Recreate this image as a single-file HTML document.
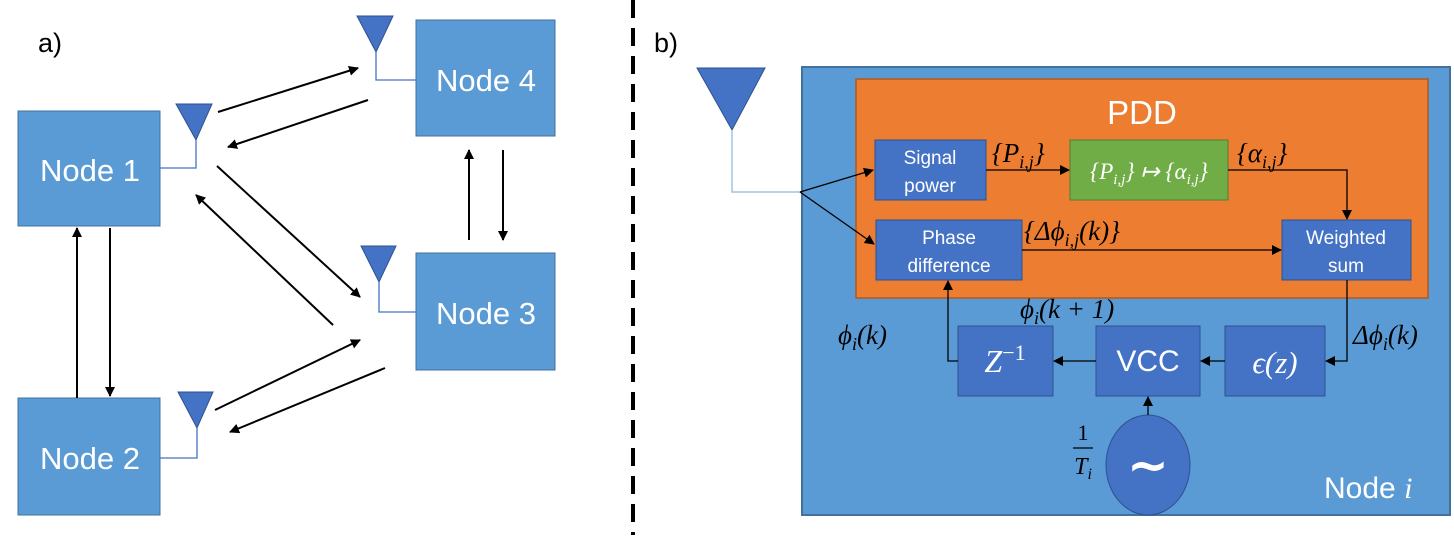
<!DOCTYPE html>
<html><head><meta charset="utf-8"><style>
html,body{margin:0;padding:0;background:#fff;}
svg{display:block;}
.w{fill:#fff;font-family:"Liberation Sans",sans-serif;}
.m{font-family:"Liberation Serif",serif;font-style:italic;fill:#000;}
</style></head><body>
<svg width="1454" height="556" viewBox="0 0 1454 556" xmlns="http://www.w3.org/2000/svg">
<defs>
<marker id="a" markerWidth="10" markerHeight="10" refX="9" refY="5" orient="auto" markerUnits="userSpaceOnUse">
<path d="M0,0 L10,5 L0,10 z" fill="#000"/></marker>
</defs>
<g font-family="Liberation Sans, sans-serif">
<text x="38" y="52" font-size="27" fill="#000">a)</text>
<text x="654" y="52" font-size="27" fill="#000">b)</text>
</g>
<g fill="#5b9bd5" stroke="#41719c" stroke-width="1">
<rect x="18" y="111" width="142" height="115"/>
<rect x="416" y="20" width="139" height="116"/>
<rect x="416" y="253" width="139" height="117"/>
<rect x="18" y="398" width="142" height="117"/>
</g>
<g class="w" font-size="31" text-anchor="middle">
<text x="90" y="181">Node 1</text>
<text x="486" y="91">Node 4</text>
<text x="486" y="324">Node 3</text>
<text x="90" y="469">Node 2</text>
</g>
<g fill="#4472c4" stroke="#2f528f">
<path d="M176,104 L212,104 L196,140 z"/>
<path d="M357,16 L393,16 L376,52 z"/>
<path d="M361,246 L396,246 L379,282 z"/>
<path d="M178,392 L213,392 L197,428 z"/>
</g>
<g fill="none" stroke="#4472c4" stroke-width="1.3">
<path d="M196,140 V168 H160"/>
<path d="M376,52 V80 H416"/>
<path d="M379,282 V312 H416"/>
<path d="M197,428 V458 H160"/>
</g>
<g stroke="#000" stroke-width="2" marker-end="url(#a)">
<line x1="218" y1="112" x2="358" y2="68"/>
<line x1="368" y1="100" x2="228" y2="147"/>
<line x1="217" y1="166" x2="360" y2="297"/>
<line x1="333" y1="325" x2="196" y2="195"/>
<line x1="215" y1="410" x2="360" y2="340"/>
<line x1="385" y1="368" x2="230" y2="432"/>
<line x1="77" y1="398" x2="77" y2="228"/>
<line x1="110" y1="228" x2="110" y2="396"/>
<line x1="469" y1="240" x2="469" y2="150"/>
<line x1="503" y1="150" x2="503" y2="240"/>
</g>
<line x1="633" y1="0" x2="633" y2="535" stroke="#000" stroke-width="4" stroke-dasharray="18,10"/>
<rect x="802" y="67" width="648" height="448" fill="#5b9bd5" stroke="#41719c" stroke-width="2"/>
<rect x="856" y="79" width="572" height="219" fill="#ed7d31" stroke="#ae5a21" stroke-width="1.5"/>
<text x="1142" y="124" class="w" font-size="33" text-anchor="middle">PDD</text>
<path d="M697,68 L765,68 L732,130 z" fill="#4472c4" stroke="#2f528f"/>
<path d="M732,130 V192 H802" fill="none" stroke="#9dc3e6" stroke-width="1.5"/>
<g fill="#4472c4" stroke="#2f528f">
<rect x="875" y="140" width="111" height="60"/>
<rect x="876" y="220" width="146" height="60"/>
<rect x="1282" y="220" width="129" height="60"/>
<rect x="958" y="326" width="95" height="70"/>
<rect x="1096" y="326" width="104" height="70"/>
<rect x="1225" y="326" width="100" height="70"/>
<ellipse cx="1148" cy="465" rx="42" ry="50"/>
</g>
<rect x="1070" y="140" width="158" height="60" fill="#70ad47" stroke="#507e32"/>
<g class="w" font-size="19" text-anchor="middle">
<text x="930" y="164">Signal</text><text x="930" y="192">power</text>
<text x="949" y="244">Phase</text><text x="949" y="272">difference</text>
<text x="1346" y="244">Weighted</text><text x="1346" y="272">sum</text>
<text x="1148" y="371" font-size="30">VCC</text>
</g>
<text x="1149" y="179" font-family="Liberation Serif,serif" font-style="italic" font-size="23" fill="#fff" text-anchor="middle">{P<tspan font-size="15" dy="5">i,j</tspan><tspan dy="-5">} ↦ {α</tspan><tspan font-size="15" dy="5">i,j</tspan><tspan dy="-5">}</tspan></text>
<text x="1005" y="372" font-family="Liberation Serif,serif" font-style="italic" font-size="32" fill="#fff" text-anchor="middle">Z<tspan font-style="normal" font-size="22" dy="-12">−1</tspan></text>
<text x="1275" y="373" font-family="Liberation Serif,serif" font-style="italic" font-size="31" fill="#fff" text-anchor="middle">ϵ(z)</text>
<text x="1148" y="482" fill="#fff" font-size="50" font-weight="bold" text-anchor="middle" font-family="DejaVu Sans,sans-serif">~</text>
<text x="1324" y="498" class="w" font-size="30">Node <tspan font-family="Liberation Serif,serif" font-style="italic">i</tspan></text>
<g stroke="#000" stroke-width="1.3" fill="none" marker-end="url(#a)">
<line x1="800" y1="192" x2="873" y2="170"/>
<line x1="800" y1="192" x2="874" y2="244"/>
<line x1="986" y1="170" x2="1069" y2="170"/>
<path d="M1228,170 H1347 V219"/>
<line x1="1022" y1="250" x2="1281" y2="250"/>
<path d="M1347,280 V361 H1326"/>
<line x1="1225" y1="361" x2="1201" y2="361"/>
<line x1="1096" y1="361" x2="1054" y2="361"/>
<path d="M958,361 H948 V281"/>
<line x1="1148" y1="415" x2="1148" y2="397"/>
</g>
<g class="m" font-size="27">
<text x="992" y="162">{P<tspan font-size="18" dy="6">i,j</tspan><tspan dy="-6">}</tspan></text>
<text x="1237" y="162">{α<tspan font-size="18" dy="6">i,j</tspan><tspan dy="-6">}</tspan></text>
<text x="1024" y="240">{Δϕ<tspan font-size="18" dy="6">i,j</tspan><tspan dy="-6">(k)}</tspan></text>
<text x="1020" y="318">ϕ<tspan font-size="18" dy="6">i</tspan><tspan dy="-6">(k + 1)</tspan></text>
<text x="838" y="344">ϕ<tspan font-size="18" dy="6">i</tspan><tspan dy="-6">(k)</tspan></text>
<text x="1353" y="344">Δϕ<tspan font-size="18" dy="6">i</tspan><tspan dy="-6">(k)</tspan></text>
<text x="1083" y="440" font-style="normal" font-size="22" text-anchor="middle">1</text>
<text x="1083" y="474" font-size="24" text-anchor="middle">T<tspan font-size="16" dy="5">i</tspan></text>
</g>
<line x1="1073" y1="448" x2="1093" y2="448" stroke="#000" stroke-width="1.3"/>
</svg>
</body></html>
